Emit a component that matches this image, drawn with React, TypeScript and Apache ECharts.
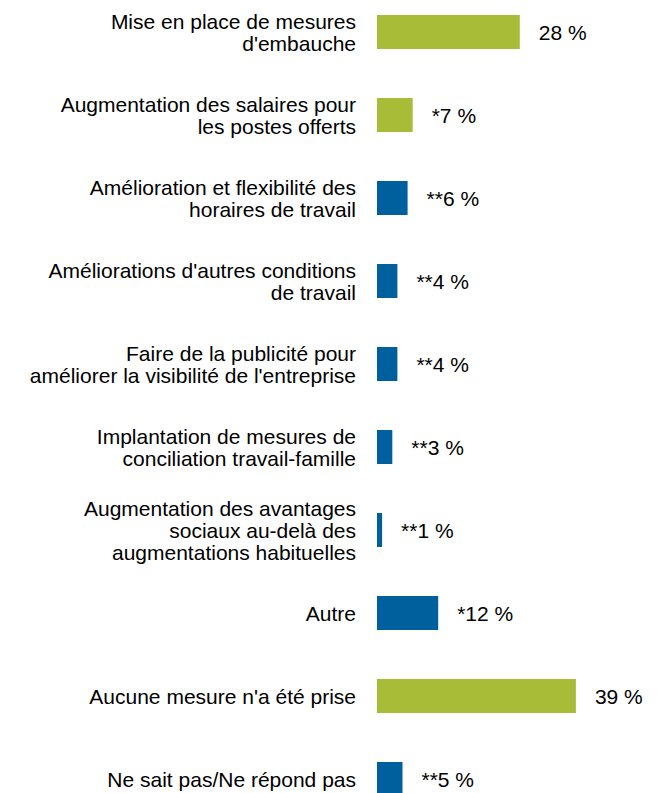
import React, { useEffect, useRef } from "react";
import * as echarts from "echarts";

const categories = [
  "Mise en place de mesures\nd'embauche",
  "Augmentation des salaires pour\nles postes offerts",
  "Amélioration et flexibilité des\nhoraires de travail",
  "Améliorations d'autres conditions\nde travail",
  "Faire de la publicité pour\naméliorer la visibilité de l'entreprise",
  "Implantation de mesures de\nconciliation travail-famille",
  "Augmentation des avantages\nsociaux au-delà des\naugmentations habituelles",
  "Autre",
  "Aucune mesure n'a été prise",
  "Ne sait pas/Ne répond pas",
];
const values = [28, 7, 6, 4, 4, 3, 1, 12, 39, 5];
const markers = ["", "*", "**", "**", "**", "**", "**", "*", "", "**"];
const highlighted = [true, true, false, false, false, false, false, false, true, false];

const GREEN = "#A9BC38";
const BLUE = "#00609E";
const FONT = "'Liberation Sans', Arial, sans-serif";

export default function App() {
  const ref = useRef<HTMLDivElement>(null);
  useEffect(() => {
    if (!ref.current) return;
    const chart = echarts.init(ref.current, undefined, { renderer: "svg" });
    chart.setOption({
      animation: false,
      textStyle: { fontFamily: FONT },
      grid: { left: 377, top: 10.5, width: 255, height: 830, outerBoundsMode: "none" },
      xAxis: {
        type: "value",
        min: 0,
        max: 50,
        show: false,
      },
      yAxis: {
        type: "category",
        inverse: true,
        data: categories,
        axisLine: { show: false },
        axisTick: { show: false },
        splitLine: { show: false },
        axisLabel: {
          fontFamily: FONT,
          fontSize: 21,
          lineHeight: 22,
          color: "#000",
          margin: 21,
          align: "right",
        },
      },
      series: [
        {
          type: "bar",
          barWidth: 34,
          data: values.map((v, i) => ({
            value: v,
            itemStyle: { color: highlighted[i] ? GREEN : BLUE },
          })),
          label: {
            show: true,
            position: "right",
            distance: 19,
            fontFamily: FONT,
            fontSize: 21,
            color: "#000",
            formatter: (p: any) => `${markers[p.dataIndex]}${p.value} %`,
          },
        },
      ],
    });
    return () => chart.dispose();
  }, []);
  return (
    <div
      style={{ position: "fixed", left: 0, top: 0, width: 660, height: 793, overflow: "hidden", background: "#fff" }}
    >
      <div ref={ref} style={{ position: "absolute", left: 0, top: -20, width: 660, height: 860 }} />
    </div>
  );
}
